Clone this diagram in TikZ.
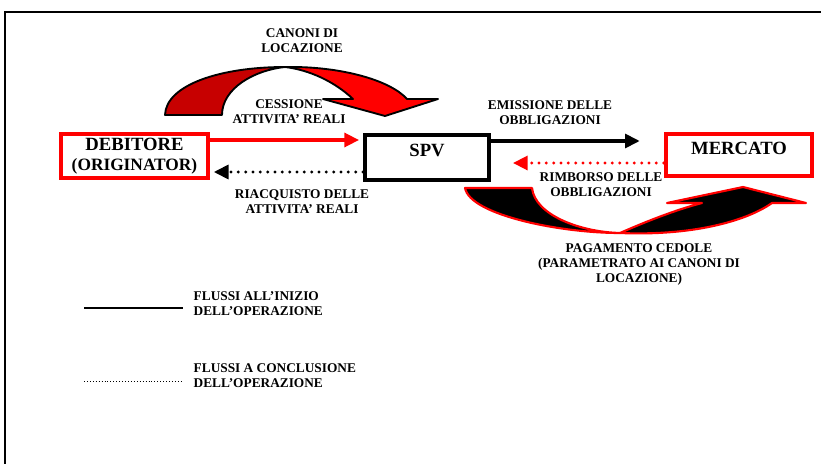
\documentclass[tikz,border=0pt]{standalone}
\usepackage{fontspec}
\setmainfont{Liberation Serif}
\usetikzlibrary{arrows.meta}
\tikzset{
    RA1/.style ={rectangle,minimum width = 110pt, minimum height =31.5pt, draw=red, line width=3pt, align=center, font=\bfseries\fontsize{14}{14.5}\selectfont},
    RA2/.style ={rectangle,minimum width = 93pt, minimum height =33.75pt, draw, line width=3pt},
    TX1/.style ={font=\bfseries\fontsize{14}{16}\selectfont},
    TX2/.style ={align=center,font=\bfseries\fontsize{10}{11.25}\selectfont},
    TX3/.style ={align=left,font=\bfseries\fontsize{10}{11.25}\selectfont},
    AR1/.style ={line width=2.4pt,-{Triangle[length=11pt,width=10.5pt]}},
    AR2/.style ={line width=2.4pt,dash pattern=on 0pt off 5.5pt,line cap=round,-{Triangle[length=11pt,width=10.5pt]}},
    CU/.style ={draw=red,fill=black,line width=1.6pt,line join=round}}

\begin{document}
\begin{tikzpicture}[x=0.75pt,y=-0.75pt]
        \useasboundingbox (0,0) rectangle (821,464);
        \draw[line width=1.5pt] (5,464) -- (5,12) -- (821,12);
        % curved arrows
        \draw[line width=1.4pt,fill=red!78!black,line join=round] (165,115) .. controls (166,85) and (220,67) .. (285,67) .. controls (255,70) and (222,88) .. (222,115) -- cycle;
        \draw[line width=1.4pt,fill=red,line join=round] (285,67) .. controls (340,66) and (390,80) .. (407,99) -- (438,99) -- (385,116) -- (323,99) -- (353,99) .. controls (335,82) and (310,70) .. (285,67) -- cycle;
        \draw[CU] (465,188) -- (532,188) .. controls (535,215) and (580,232) .. (620,233) .. controls (560,233) and (470,215) .. (465,188) -- cycle;
        \draw[CU] (620,233) .. controls (690,236) and (745,222) .. (772,203) -- (806,203) -- (743,187) -- (667,203) -- (702,203) .. controls (675,210) and (645,222) .. (620,233) -- cycle;
        % boxes
        \node[RA1] (1) at (134.5,156){DEBITORE\\{\fontsize{13}{13}\selectfont (ORIGINATOR)}};
        \node[RA2] (2) at (427,157.5){};
        \node[TX1] (3) at (427,150){SPV};
        \node[RA1] (4) at (739,155){};
        \node[TX1] (5) at (739,148){MERCATO};
        % flows
        \draw[AR1,red,shorten >=3pt] (1.east |- 0,140) -- (2.west |- 0,140);
        \draw[AR2,shorten >=3pt] (2.west |- 0,172) -- (1.east |- 0,172);
        \draw[AR1,shorten >=18pt] (2.east |- 0,141) -- (4.west |- 0,141);
        \draw[AR2,red,shorten >=16.5pt] (4.west |- 0,163) -- (2.east |- 0,163);
        % labels
        \node[TX2] (6) at (302,40.5){CANONI DI\\LOCAZIONE};
        \node[TX2] (7) at (289,112){CESSIONE\\ATTIVITA' REALI};
        \node[TX2] (8) at (550,113){EMISSIONE DELLE\\OBBLIGAZIONI};
        \node[TX2] (9) at (302,202){RIACQUISTO DELLE\\ATTIVITA' REALI};
        \node[TX2] (10) at (601,184.5){RIMBORSO DELLE\\OBBLIGAZIONI};
        \node[TX2] (11) at (639,265){PAGAMENTO CEDOLE\\(PARAMETRATO AI CANONI DI\\LOCAZIONE)};
        % legend
        \coordinate (a1) at (84,308);
        \coordinate (a2) at (183,308);
        \coordinate (b1) at (84,381);
        \coordinate (b2) at (183,381);
        \draw[line width=1.5pt] (a1) -- (a2);
        \draw[line width=0.7pt,dash pattern=on 0.7pt off 1.5pt] (b1) -- (b2);
        \node[TX3,anchor=west] (12) at (189,303.5){FLUSSI ALL'INIZIO\\DELL'OPERAZIONE};
        \node[TX3,anchor=west] (13) at (189,376){FLUSSI A CONCLUSIONE\\DELL'OPERAZIONE};
    \end{tikzpicture}
\end{document}
